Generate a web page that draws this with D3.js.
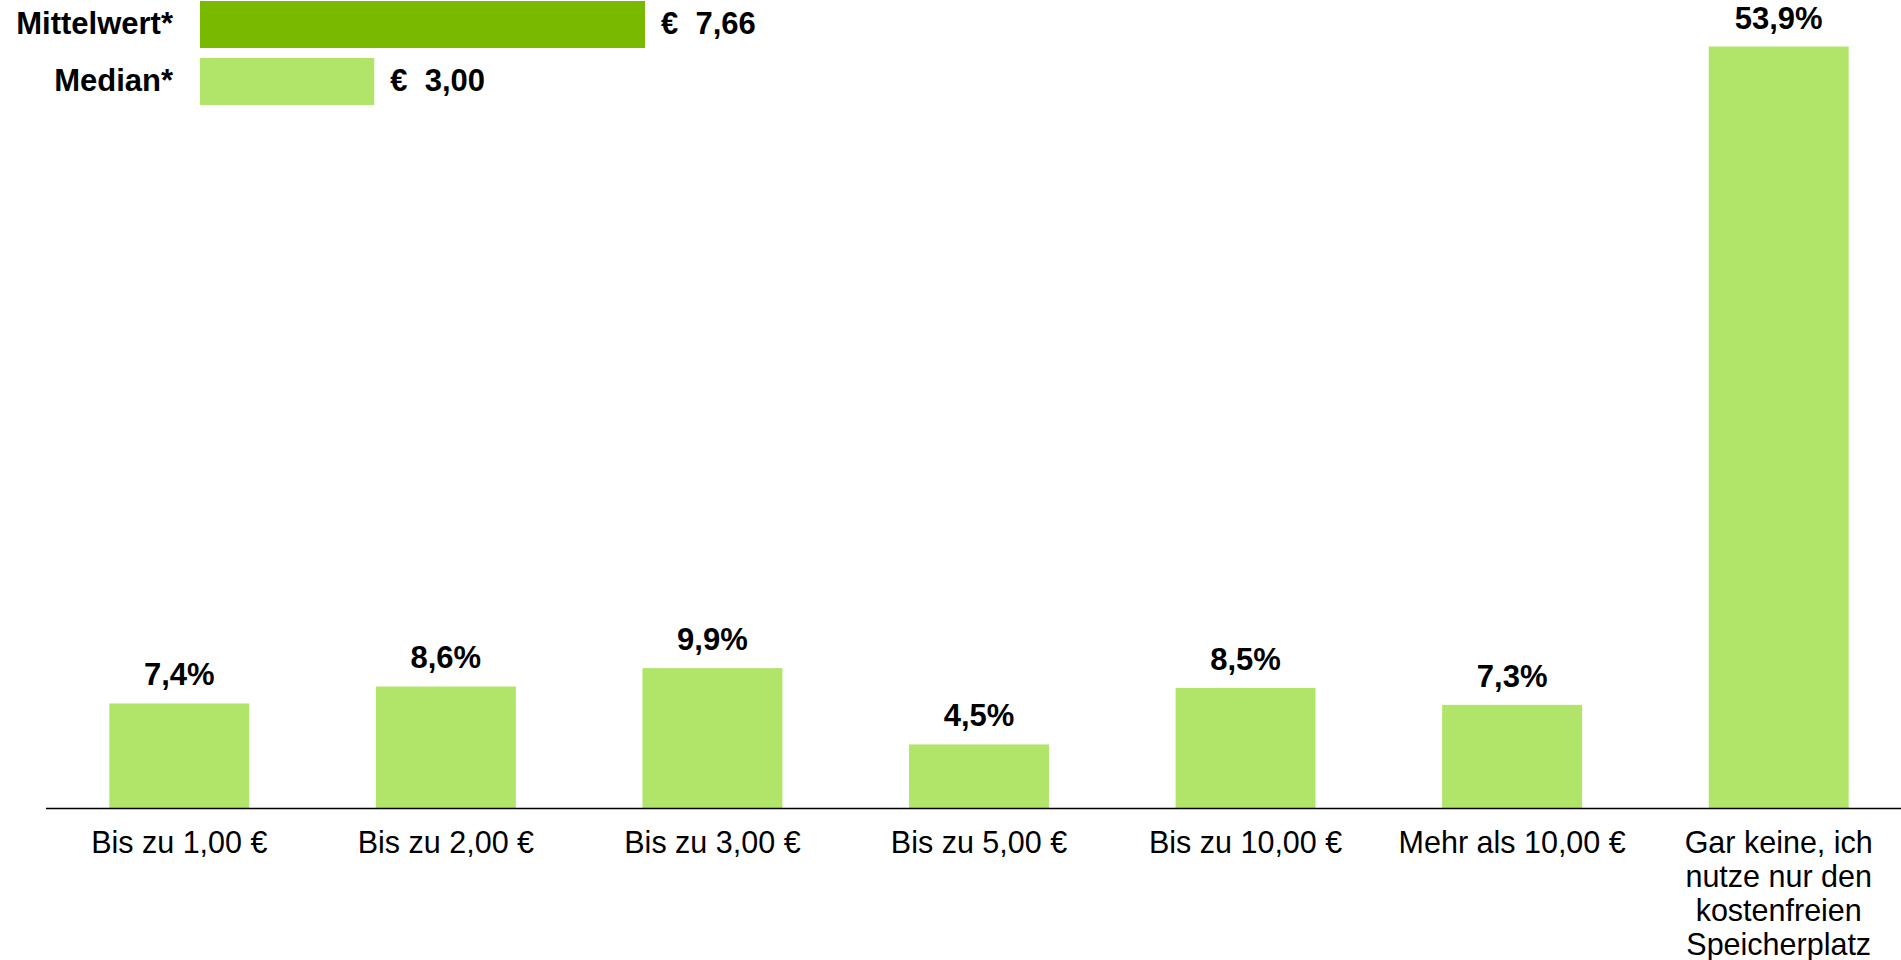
<!DOCTYPE html>
<meta charset="utf-8">
<style>

body {
  margin: 0;
  background-color: white;
  overflow: hidden;
}

text {
  font-family: "Liberation Sans", Arial, sans-serif;
  fill: black;
}

</style>
<body>

<script src="https://cdn.jsdelivr.net/npm/d3@7"></script>
<script>

var categories = [
  "Bis zu 1,00 €",
  "Bis zu 2,00 €",
  "Bis zu 3,00 €",
  "Bis zu 5,00 €",
  "Bis zu 10,00 €",
  "Mehr als 10,00 €",
  "Gar keine, ich|nutze nur den|kostenfreien|Speicherplatz"
];
var shares = [7.4, 8.6, 9.9, 4.5, 8.5, 7.3, 53.9];

var statLabels = ["Mittelwert*", "Median*"];
var statValues = [7.66, 3.00];

var width = 1901,
    height = 960;

var fmt = function(v) { return v.toFixed(1).replace(".", ",") + "%"; };
var euro = function(v) { return "€  " + v.toFixed(2).replace(".", ","); };

var svg = d3.select("body").append("svg")
    .attr("width", width)
    .attr("height", height);

// main bars
var x = d3.scaleBand()
    .domain(categories)
    .range([46, 1912])
    .paddingInner(0.475)
    .paddingOuter(0.2375);

var y = d3.scaleLinear()
    .domain([0, 53.9])
    .range([808, 46.5]);

svg.append("g").selectAll("rect")
    .data(shares)
  .enter().append("rect")
    .attr("x", function(d, i) { return x(categories[i]); })
    .attr("y", function(d) { return y(d); })
    .attr("width", x.bandwidth())
    .attr("height", function(d) { return y(0) - y(d); })
    .attr("fill", "#b1e56a");

svg.append("g").selectAll("text")
    .data(shares)
  .enter().append("text")
    .attr("x", function(d, i) { return x(categories[i]) + x.bandwidth() / 2; })
    .attr("y", function(d) { return y(d) - 18; })
    .attr("text-anchor", "middle")
    .style("font-size", "31px")
    .style("font-weight", "bold")
    .text(fmt);

svg.append("line")
    .attr("x1", 46)
    .attr("x2", width)
    .attr("y1", y(0) + 0.5)
    .attr("y2", y(0) + 0.5)
    .attr("stroke", "black")
    .attr("stroke-width", 1.5);

// category labels, "|" splits lines
var cat = svg.append("g").selectAll("text")
    .data(categories)
  .enter().append("text")
    .attr("text-anchor", "middle")
    .style("font-size", "30.5px")
    .attr("transform", function(d) { return "translate(" + (x(d) + x.bandwidth() / 2) + ",853)"; });

cat.selectAll("tspan")
    .data(function(d) { return d.split("|"); })
  .enter().append("tspan")
    .attr("x", 0)
    .attr("y", function(d, i) { return i * 34; })
    .text(function(d) { return d; });

// Mittelwert / Median legend bars
var xs = d3.scaleLinear()
    .domain([0, 7.66])
    .range([200, 645]);

var rowY = [1, 58];

var stat = svg.append("g").selectAll("g")
    .data(statValues)
  .enter().append("g")
    .attr("transform", function(d, i) { return "translate(0," + rowY[i] + ")"; });

stat.append("rect")
    .attr("x", xs(0))
    .attr("width", function(d) { return xs(d) - xs(0); })
    .attr("height", 47)
    .attr("fill", function(d, i) { return i === 0 ? "#79b900" : "#b1e56a"; });

stat.append("text")
    .attr("x", 173)
    .attr("y", 33)
    .attr("text-anchor", "end")
    .style("font-size", "31px")
    .style("font-weight", "bold")
    .text(function(d, i) { return statLabels[i]; });

stat.append("text")
    .attr("x", function(d) { return xs(d) + 16; })
    .attr("y", 33)
    .style("font-size", "31px")
    .style("font-weight", "bold")
    .style("white-space", "pre")
    .text(euro);

</script>
